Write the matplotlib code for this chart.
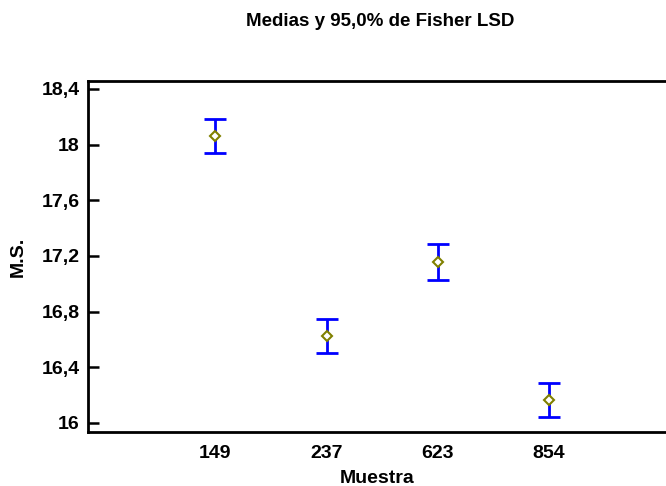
import numpy as np
import matplotlib
matplotlib.use("Agg")
import matplotlib.pyplot as plt

# medias y semiamplitud LSD
muestras = ["149", "237", "623", "854"]
medias = [18.06, 16.625, 17.155, 16.165]
semi_lsd = [0.122, 0.122, 0.128, 0.122]
yticks = [16, 16.4, 16.8, 17.2, 17.6, 18, 18.4]
ytick_labels = ["16", "16,4", "16,8", "17,2", "17,6", "18", "18,4"]

plt.rcParams['font.family'] = ['Liberation Sans', 'DejaVu Sans']

fig = plt.figure(figsize=(6.66, 4.86), dpi=100)
ax = fig.add_axes([88/666, 1 - 432/486, 1 - 88/666, (432 - 81)/486])

x = np.arange(1, len(muestras) + 1)
ax.errorbar(x, medias, yerr=semi_lsd, fmt='none', ecolor='#0000ff',
            elinewidth=2, capsize=8, capthick=2)
ax.plot(x, medias, linestyle='none', marker='D', markersize=5,
        markerfacecolor='white', markeredgecolor='#808000', markeredgewidth=1.5)

ax.set_xlim(-0.145, 5.05)
ax.set_ylim(15.935, 18.457)
ax.set_xticks(x)
ax.set_xticklabels(muestras, fontsize=14, fontweight='bold')
ax.set_yticks(yticks)
ax.set_yticklabels(ytick_labels, fontsize=14, fontweight='bold')
ax.tick_params(axis='x', length=0, pad=9)
ax.tick_params(axis='y', direction='in', length=8, width=1.8, pad=6)

for s in ['left', 'top', 'bottom']:
    ax.spines[s].set_linewidth(2)
ax.spines['right'].set_visible(False)

ax.set_xlabel("Muestra", fontsize=14, fontweight='bold', labelpad=6)
ax.set_ylabel("M.S.", fontsize=14, fontweight='bold')
ax.yaxis.set_label_coords(-(88 - 27)/578, 0.5)
fig.text(380/666, 1 - 21/486, "Medias y 95,0% de Fisher LSD", ha='center', va='center',
         fontsize=13.5, fontweight='bold')

fig.savefig("out.png", dpi=100)
